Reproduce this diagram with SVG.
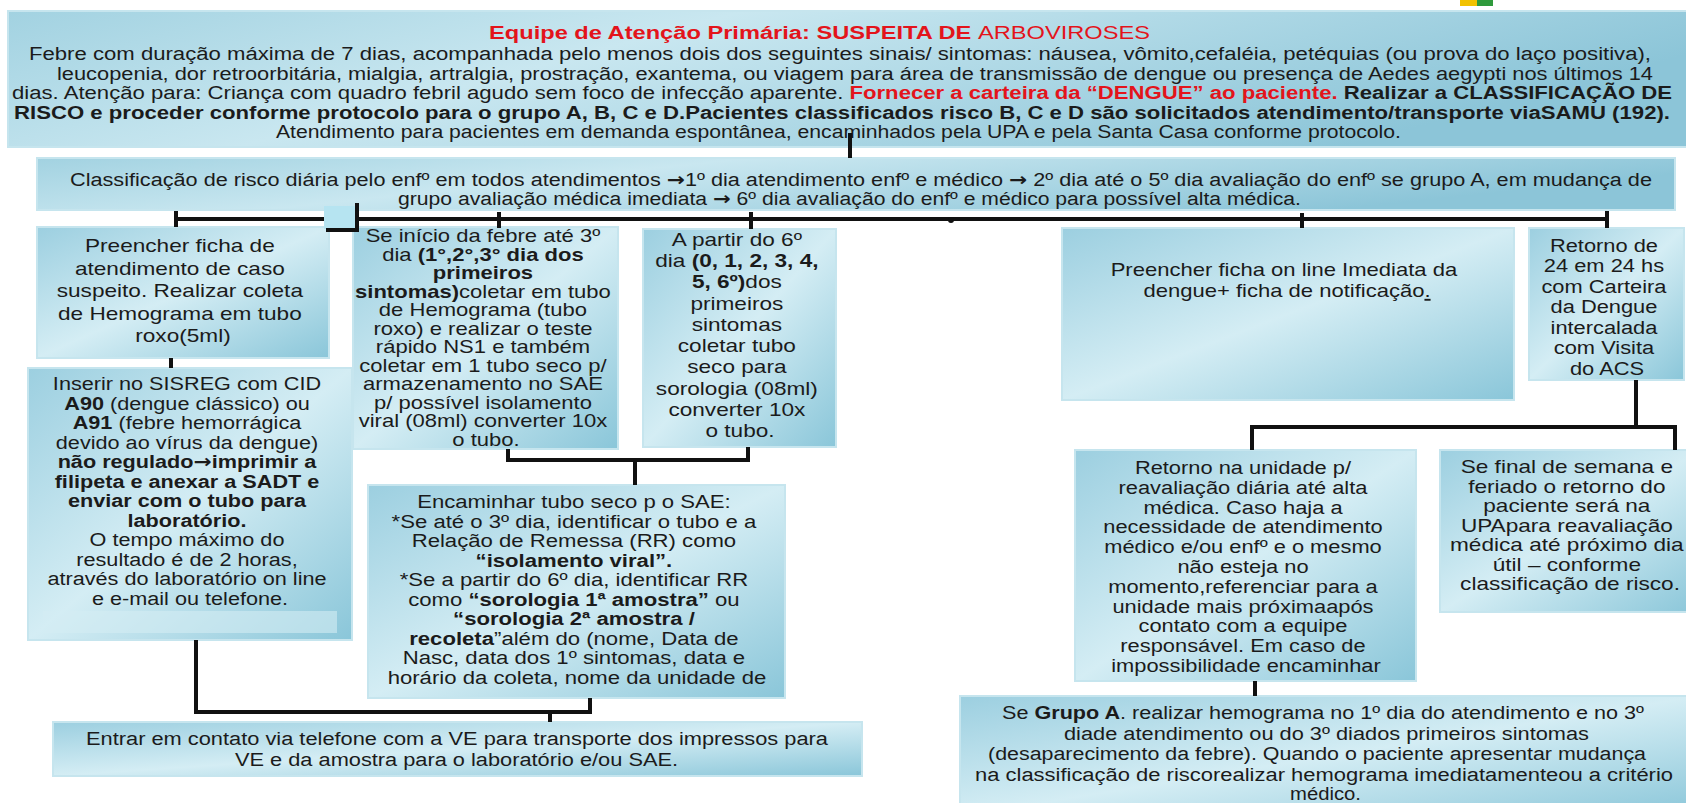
<svg xmlns="http://www.w3.org/2000/svg" width="1686" height="803" viewBox="0 0 1686 803">
<defs>
<linearGradient id="gBox" x1="0" y1="0" x2="1" y2="1">
<stop offset="0" stop-color="#9ccfe0"/>
<stop offset="0.5" stop-color="#d4edf4"/>
<stop offset="1" stop-color="#8ac6d9"/>
</linearGradient>
<linearGradient id="gWide" x1="0" y1="0" x2="1" y2="0.3">
<stop offset="0" stop-color="#a2d2e1"/>
<stop offset="0.4" stop-color="#c9e7f0"/>
<stop offset="1" stop-color="#8cc5d8"/>
</linearGradient>
<style>
.box{fill:url(#gBox);stroke:#c6e5ee;stroke-width:2}
.wide{fill:url(#gWide);stroke:#c6e5ee;stroke-width:2}
.t{font-family:"Liberation Sans",Arial,sans-serif;font-size:19px;fill:#1b1b1b;text-anchor:middle}
.s{font-family:"Liberation Sans",Arial,sans-serif;font-size:18px;fill:#1b1b1b}
.b{font-weight:bold}
.red{fill:#e3141b}
.ar{font-family:"DejaVu Sans",sans-serif;font-weight:bold}
.con{fill:none;stroke:#111;stroke-width:4}
</style>
</defs>
<rect width="1686" height="803" fill="#ffffff"/>
<rect x="1460" y="0" width="17" height="6" fill="#f2c200"/>
<rect x="1477" y="0" width="16" height="6" fill="#2f9a3c"/>

<g id="n-top">
<rect class="wide" x="8" y="11" width="1690" height="136"/>
<text class="s red b" x="489" y="39" font-size="19" textLength="661" lengthAdjust="spacingAndGlyphs">Equipe de Atenção Primária: SUSPEITA DE <tspan font-weight="normal">ARBOVIROSES</tspan></text>
<text class="s" x="29" y="59.5" textLength="1622" lengthAdjust="spacingAndGlyphs">Febre com duração máxima de 7 dias, acompanhada pelo menos dois dos seguintes sinais/ sintomas: náusea, vômito,cefaléia, petéquias (ou prova do laço positiva),</text>
<text class="s" x="57" y="79.5" textLength="1596" lengthAdjust="spacingAndGlyphs">leucopenia, dor retroorbitária, mialgia, artralgia, prostração, exantema, ou viagem para área de transmissão de dengue ou presença de Aedes aegypti nos últimos 14</text>
<text class="s" x="12" y="99" textLength="1660" lengthAdjust="spacingAndGlyphs">dias. Atenção para: Criança com quadro febril agudo sem foco de infecção aparente. <tspan class="b red">Fornecer a carteira da “DENGUE” ao paciente.</tspan><tspan class="b"> Realizar a CLASSIFICAÇÃO DE</tspan></text>
<text class="s b" x="14" y="119" textLength="1656" lengthAdjust="spacingAndGlyphs">RISCO e proceder conforme protocolo para o grupo A, B, C e D.Pacientes classificados risco B, C e D são solicitados atendimento/transporte viaSAMU (192).</text>
<text class="s" x="276" y="138" textLength="1125" lengthAdjust="spacingAndGlyphs">Atendimento para pacientes em demanda espontânea, encaminhados pela UPA e pela Santa Casa conforme protocolo.</text>
</g>

<g id="n-classif">
<rect class="wide" x="37" y="158" width="1638" height="52"/>
<text class="s" x="70" y="185.5" textLength="1582" lengthAdjust="spacingAndGlyphs">Classificação de risco diária pelo enfº em todos atendimentos <tspan class="ar">→</tspan>1º dia atendimento enfº e médico <tspan class="ar">→</tspan> 2º dia até o 5º dia avaliação do enfº se grupo A, em mudança de</text>
<text class="s" x="398" y="204.5" textLength="903" lengthAdjust="spacingAndGlyphs">grupo avaliação médica imediata <tspan class="ar">→</tspan> 6º dia avaliação do enfº e médico para possível alta médica.</text>
</g>

<g id="n-preencher">
<rect class="box" x="37" y="227" width="292" height="131"/>
<text class="t" font-size="20.5" transform="translate(183 0) scale(1.19 1)">
<tspan x="0" y="252">Preencher ficha de</tspan>
<tspan x="0" y="274.6">atendimento de caso</tspan>
<tspan x="0" y="297.2">suspeito. Realizar coleta</tspan>
<tspan x="0" y="319.8">de Hemograma em tubo</tspan>
<tspan x="0" y="342.4">roxo(5ml)</tspan>
</text>
</g>

<g id="n-inserir">
<rect class="box" x="28" y="368" width="324" height="272"/>
<rect x="43" y="611" width="294" height="22" fill="#d3ecf3" opacity="0.6"/>
<text class="t" transform="translate(190 0) scale(1.14 1)">
<tspan x="0" y="390.5">Inserir no SISREG com CID</tspan>
<tspan x="0" y="410"><tspan class="b">A90</tspan> (dengue clássico) ou</tspan>
<tspan x="0" y="429.5"><tspan class="b">A91</tspan> (febre hemorrágica</tspan>
<tspan x="0" y="449">devido ao vírus da dengue)</tspan>
<tspan x="0" y="468.5" class="b">não regulado<tspan class="ar">→</tspan>imprimir a</tspan>
<tspan x="0" y="488" class="b">filipeta e anexar a SADT e</tspan>
<tspan x="0" y="507.5" class="b">enviar com o tubo para</tspan>
<tspan x="0" y="527" class="b">laboratório.</tspan>
<tspan x="0" y="546.5">O tempo máximo do</tspan>
<tspan x="0" y="566">resultado é de 2 horas,</tspan>
<tspan x="0" y="585.5">através do laboratório on line</tspan>
<tspan x="0" y="605">e e-mail ou telefone.</tspan>
</text>
</g>

<g id="n-seinicio">
<rect class="box" x="353" y="227" width="265" height="222"/>
<text class="t" font-size="17" transform="translate(486 0) scale(1.16 1)">
<tspan x="0" y="242.5">Se início da febre até 3º</tspan>
<tspan x="0" y="261">dia <tspan class="b">(1°,2°,3° dia dos</tspan></tspan>
<tspan x="0" y="279.5" class="b">primeiros</tspan>
<tspan x="0" y="298"><tspan class="b">sintomas)</tspan>coletar em tubo</tspan>
<tspan x="0" y="316.5">de Hemograma (tubo</tspan>
<tspan x="0" y="335">roxo) e realizar o teste</tspan>
<tspan x="0" y="353.5">rápido NS1 e também</tspan>
<tspan x="0" y="372">coletar em 1 tubo seco p/</tspan>
<tspan x="0" y="390.5">armazenamento no SAE</tspan>
<tspan x="0" y="409">p/ possível isolamento</tspan>
<tspan x="0" y="427.5">viral (08ml) converter 10x</tspan>
<tspan x="0" y="446">o tubo.</tspan>
</text>
</g>

<g id="n-apartir">
<rect class="box" x="643" y="229" width="193" height="218"/>
<text class="t" font-size="20" transform="translate(740 0) scale(1.19 1)">
<tspan x="0" y="245.7">A partir do 6º</tspan>
<tspan x="0" y="267">dia <tspan class="b">(0, 1, 2, 3, 4,</tspan></tspan>
<tspan x="0" y="288.3"><tspan class="b">5, 6º)</tspan>dos</tspan>
<tspan x="0" y="309.6">primeiros</tspan>
<tspan x="0" y="330.9">sintomas</tspan>
<tspan x="0" y="352.2">coletar tubo</tspan>
<tspan x="0" y="373.5">seco para</tspan>
<tspan x="0" y="394.8">sorologia (08ml)</tspan>
<tspan x="0" y="416.1">converter 10x</tspan>
<tspan x="0" y="437.4">o tubo.</tspan>
</text>
</g>

<g id="n-encaminhar">
<rect class="box" x="368" y="485" width="417" height="213"/>
<text class="t" font-size="18.5" transform="translate(577 0) scale(1.165 1)">
<tspan x="0" y="508.5">Encaminhar tubo seco p o SAE:</tspan>
<tspan x="0" y="528">*Se até o 3º dia, identificar o tubo e a</tspan>
<tspan x="0" y="547.5">Relação de Remessa (RR) como</tspan>
<tspan x="0" y="567" class="b">“isolamento viral”.</tspan>
<tspan x="0" y="586.5">*Se a partir do 6º dia, identificar RR</tspan>
<tspan x="0" y="606">como <tspan class="b">“sorologia 1ª amostra”</tspan> ou</tspan>
<tspan x="0" y="625.5" class="b">“sorologia 2ª amostra /</tspan>
<tspan x="0" y="645"><tspan class="b">recoleta</tspan>”além do (nome, Data de</tspan>
<tspan x="0" y="664.5">Nasc, data dos 1º sintomas, data e</tspan>
<tspan x="0" y="684">horário da coleta, nome da unidade de</tspan>
</text>
</g>

<g id="n-entrar">
<rect class="box" x="53" y="722" width="809" height="54"/>
<text class="s" font-size="19" x="86" y="745" textLength="742" lengthAdjust="spacingAndGlyphs">Entrar em contato via telefone com a VE para transporte dos impressos para</text>
<text class="s" font-size="19" x="235" y="766" textLength="443" lengthAdjust="spacingAndGlyphs">VE e da amostra para o laboratório e/ou SAE.</text>
</g>

<g id="n-online">
<rect class="box" x="1062" y="228" width="452" height="172"/>
<text class="t" font-size="20.5" transform="translate(1287 0) scale(1.16 1)">
<tspan x="0" y="276">Preencher ficha on line Imediata da</tspan>
<tspan x="0" y="297">dengue+ ficha de notificação<tspan text-decoration="underline">.</tspan></tspan>
</text>
</g>

<g id="n-retorno24">
<rect class="box" x="1529" y="228" width="155" height="152"/>
<text class="t" font-size="20" transform="translate(1607 0) scale(1.15 1)">
<tspan x="0" y="252">Retorno de</tspan>
<tspan x="0" y="272.5">24 em 24 hs</tspan>
<tspan x="0" y="293">com Carteira</tspan>
<tspan x="0" y="313.5">da Dengue</tspan>
<tspan x="0" y="334">intercalada</tspan>
<tspan x="0" y="354.5">com Visita</tspan>
<tspan x="0" y="375">do ACS</tspan>
</text>
</g>

<g id="n-retornounidade">
<rect class="box" x="1075" y="450" width="341" height="231"/>
<text class="t" transform="translate(1246 0) scale(1.15 1)">
<tspan x="0" y="474">Retorno na unidade p/</tspan>
<tspan x="0" y="493.8">reavaliação diária até alta</tspan>
<tspan x="0" y="513.6">médica. Caso haja a</tspan>
<tspan x="0" y="533.4">necessidade de atendimento</tspan>
<tspan x="0" y="553.2">médico e/ou enfº e o mesmo</tspan>
<tspan x="0" y="573">não esteja no</tspan>
<tspan x="0" y="592.8">momento,referenciar para a</tspan>
<tspan x="0" y="612.6">unidade mais próximaapós</tspan>
<tspan x="0" y="632.4">contato com a equipe</tspan>
<tspan x="0" y="652.2">responsável. Em caso de</tspan>
<tspan x="0" y="672">impossibilidade encaminhar</tspan>
</text>
</g>

<g id="n-sefinal">
<rect class="box" x="1440" y="450" width="260" height="162"/>
<text class="t" transform="translate(1570 0) scale(1.19 1)">
<tspan x="0" y="473.5">Se final de semana e</tspan>
<tspan x="0" y="493">feriado o retorno do</tspan>
<tspan x="0" y="512.5">paciente será na</tspan>
<tspan x="0" y="532">UPApara reavaliação</tspan>
<tspan x="0" y="551.5">médica até próximo dia</tspan>
<tspan x="0" y="571">útil – conforme</tspan>
<tspan x="0" y="590.5">classificação de risco.</tspan>
</text>
</g>

<g id="n-grupoA">
<rect class="box" x="960" y="696" width="740" height="120"/>
<text class="s" font-size="19" x="1002" y="719" textLength="642" lengthAdjust="spacingAndGlyphs">Se <tspan class="b">Grupo A</tspan>. realizar hemograma no 1º dia do atendimento e no 3º</text>
<text class="s" font-size="19" x="1064" y="740" textLength="525" lengthAdjust="spacingAndGlyphs">diade atendimento ou do 3º diados primeiros sintomas</text>
<text class="s" font-size="19" x="988" y="760" textLength="658" lengthAdjust="spacingAndGlyphs">(desaparecimento da febre). Quando o paciente apresentar mudança</text>
<text class="s" font-size="19" x="975" y="780.5" textLength="698" lengthAdjust="spacingAndGlyphs">na classificação de riscorealizar hemograma imediatamenteou a critério</text>
<text class="s" font-size="19" x="1290" y="800" textLength="71" lengthAdjust="spacingAndGlyphs">médico.</text>
</g>

<g id="connectors">
<path class="con" d="M850 133 V158"/>
<path class="con" d="M176 219 H1607"/>
<path class="con" d="M176 211 V227 M499 212 V228 M751 212 V229 M1302 213 V228 M1607 211 V228"/>
<circle cx="951" cy="220" r="3" fill="#111"/>
<rect x="324" y="206" width="32" height="23" fill="#b6e4f1"/>
<rect x="355" y="203" width="4" height="29" fill="#111"/>
<rect x="326" y="228" width="33" height="4" fill="#111"/>
<path class="con" d="M171 358 V368"/>
<path class="con" d="M508 449 V460 H748 V447 M635 460 V485"/>
<path class="con" d="M196 640 V712 H590 V698 M550 712 V722"/>
<path class="con" d="M1636 380 V427 M1252 450 V427 H1675 V450"/>
<path class="con" d="M1255 681 V696"/>
</g>
</svg>
